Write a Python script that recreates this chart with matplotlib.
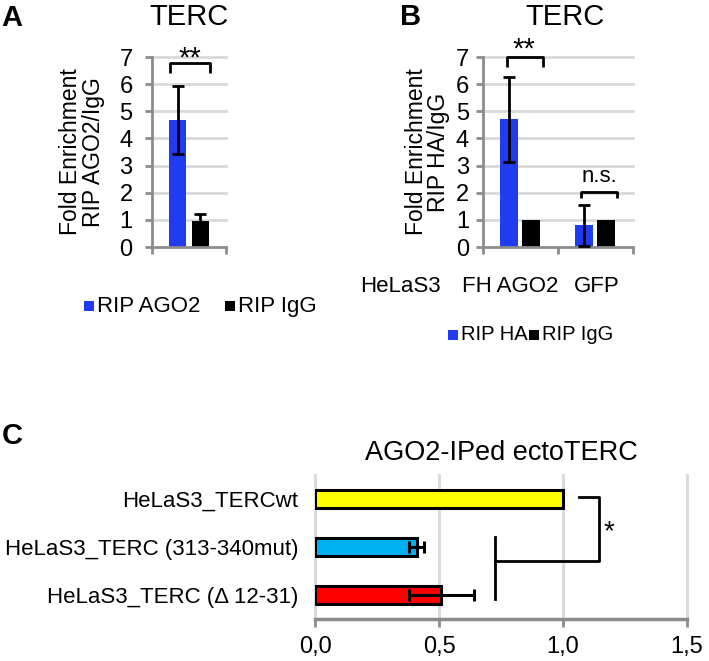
import matplotlib
matplotlib.use('Agg')
import matplotlib.pyplot as plt
from matplotlib.patches import Rectangle
from matplotlib.ticker import FuncFormatter

plt.rcParams['font.family'] = ['Liberation Sans', 'DejaVu Sans']

# panel A
a_names = ['RIP AGO2', 'RIP IgG']
a_vals = [4.68, 0.97]
a_err = [1.25, 0.23]

# panel B
b_cats = ['FH AGO2', 'GFP']
b_ha = [4.7, 0.8]
b_ha_err = [1.55, 0.75]
b_igg = [1.0, 1.0]

# panel C
c_labels = ['HeLaS3_TERC (\u0394 12-31)', 'HeLaS3_TERC (313-340mut)', 'HeLaS3_TERCwt']
c_vals = [0.51, 0.41, 1.0]
c_err = [0.13, 0.03, 0.0]
c_colors = ['#ff0000', '#00b0f0', '#ffff00']

BLUE = '#1f3cf2'
GRID = '#d9d9d9'
SPINE = '#8c8c8c'

W, H = 709, 661
fig = plt.figure(figsize=(W / 100, H / 100), dpi=100)


def px_axes(x0, y0, x1, y1):
    return fig.add_axes([x0 / W, 1 - y1 / H, (x1 - x0) / W, (y1 - y0) / H])


def style_vbar(ax, ncat, pad):
    ax.set_ylim(0, 7)
    ax.set_xlim(-0.5, ncat - 0.5)
    ax.set_yticks(range(8))
    for y in range(1, 8):
        ax.axhline(y, color=GRID, lw=2, zorder=0, clip_on=False)
    for s in ['top', 'right']:
        ax.spines[s].set_visible(False)
    for s in ['left', 'bottom']:
        ax.spines[s].set_color(SPINE)
        ax.spines[s].set_linewidth(2)
    ax.set_xticks([i - 0.5 for i in range(ncat + 1)])
    ax.set_xticklabels([])
    ax.tick_params(axis='x', length=5, width=2, color=SPINE)
    ax.tick_params(axis='y', length=5, width=2, color=SPINE, labelsize=17, pad=pad)


def bracket(ax, x0, x1, ytop, ylow, lw=2):
    ax.plot([x0, x0, x1, x1], [ylow, ytop, ytop, ylow], color='black', lw=lw,
            clip_on=False, solid_capstyle='butt')


# ---- A ----
axA = px_axes(152, 57, 226, 247)
style_vbar(axA, 1, pad=9)
axA.bar([-0.155], [a_vals[0]], 0.22, color=BLUE, zorder=2)
axA.bar([0.155], [a_vals[1]], 0.22, color='black', zorder=2)
axA.errorbar([-0.155, 0.155], a_vals, yerr=a_err, fmt='none', ecolor='black',
             elinewidth=2, capsize=4, capthick=2, zorder=3)
axA.set_ylabel('Fold Enrichment\nRIP AGO2/IgG', fontsize=16.5, labelpad=10, linespacing=1.0)
bracket(axA, -0.26, 0.28, 6.78, 6.41)
axA.text(0.01, 6.95, '**', ha='center', va='center', fontsize=21)

# ---- B ----
axB = px_axes(483, 57, 633, 247)
style_vbar(axB, 2, pad=5)
xs = range(len(b_cats))
axB.bar([x - 0.16 for x in xs], b_ha, 0.24, color=BLUE, zorder=2)
axB.bar([x + 0.135 for x in xs], b_igg, 0.24, color='black', zorder=2)
axB.errorbar([x - 0.16 for x in xs], b_ha, yerr=b_ha_err, fmt='none', ecolor='black',
             elinewidth=2, capsize=4, capthick=2, zorder=3)
axB.set_ylabel('Fold Enrichment\nRIP HA/IgG', fontsize=16.5, labelpad=4, linespacing=0.95)
bracket(axB, -0.18, 0.3, 7.0, 6.63)
axB.text(0.04, 7.28, '**', ha='center', va='center', fontsize=21)
bracket(axB, 0.81, 1.29, 2.03, 1.8)
axB.text(1.05, 2.2, 'n.s.', ha='center', va='bottom', fontsize=16)

# labels under B
fig.text(400 / W, 1 - 287 / H, 'HeLaS3', ha='center', va='center', fontsize=16)
fig.text(510 / W, 1 - 287 / H, 'FH AGO2', ha='center', va='center', fontsize=16)
fig.text(597 / W, 1 - 287 / H, 'GFP', ha='center', va='center', fontsize=16)


# legends
def legend_item(x_sq, y, color, label, size=16):
    fig.patches.append(Rectangle((x_sq / W, 1 - (y + 5) / H), 10 / W, 10 / H,
                                 transform=fig.transFigure, facecolor=color,
                                 edgecolor='none'))
    fig.text((x_sq + 13) / W, 1 - y / H, label, ha='left', va='center', fontsize=size)


legend_item(84, 306, BLUE, a_names[0])
legend_item(225, 306, 'black', a_names[1])
legend_item(448, 335, BLUE, 'RIP HA', size=14.5)
legend_item(529, 335, 'black', 'RIP IgG', size=14.5)

# titles / panel letters
fig.text(189 / W, 1 - 17 / H, 'TERC', ha='center', va='center', fontsize=21)
fig.text(565 / W, 1 - 17 / H, 'TERC', ha='center', va='center', fontsize=21)
fig.text(12 / W, 1 - 18 / H, 'A', ha='center', va='center', fontsize=21, fontweight='bold')
fig.text(411 / W, 1 - 17 / H, 'B', ha='center', va='center', fontsize=21, fontweight='bold')
fig.text(12 / W, 1 - 436 / H, 'C', ha='center', va='center', fontsize=21, fontweight='bold')

# ---- C ----
axC = px_axes(315, 475, 687, 619)
yc = range(len(c_labels))
axC.barh(list(yc), c_vals, 0.38, color=c_colors, edgecolor='black', linewidth=2.2, zorder=2)
for y, v, e in zip(yc, c_vals, c_err):
    if e > 0:
        axC.errorbar([v], [y], xerr=[e], fmt='none', ecolor='black', elinewidth=2.2,
                     capsize=4, capthick=2.2, zorder=3)
axC.set_xlim(0, 1.5)
axC.set_ylim(-0.5, 2.5)
axC.set_xticks([0, 0.5, 1.0, 1.5])
axC.xaxis.set_major_formatter(FuncFormatter(lambda v, p: f'{v:.1f}'.replace('.', ',')))
for xv in [0, 0.5, 1.0, 1.5]:
    axC.axvline(xv, color=GRID, lw=2, zorder=0, clip_on=False)
axC.set_yticks(list(yc))
axC.set_yticklabels(c_labels)
axC.tick_params(axis='y', length=0, labelsize=16, pad=12)
axC.tick_params(axis='x', length=6, width=2, color=SPINE, labelsize=17, pad=6)
for s in ['top', 'right', 'left']:
    axC.spines[s].set_visible(False)
axC.spines['bottom'].set_color(SPINE)
axC.spines['bottom'].set_linewidth(2.5)
axC.set_title('AGO2-IPed ectoTERC', fontsize=19.5, pad=11)

# significance bracket C
axC.plot([1.065, 1.145, 1.145, 0.726], [2.04, 2.04, 0.71, 0.71], color='black', lw=2,
         clip_on=False)
axC.plot([0.726, 0.726], [1.21, -0.08], color='black', lw=2, clip_on=False)
axC.text(1.185, 1.3, '*', ha='center', va='center', fontsize=20)

fig.savefig('out.png', dpi=100)
